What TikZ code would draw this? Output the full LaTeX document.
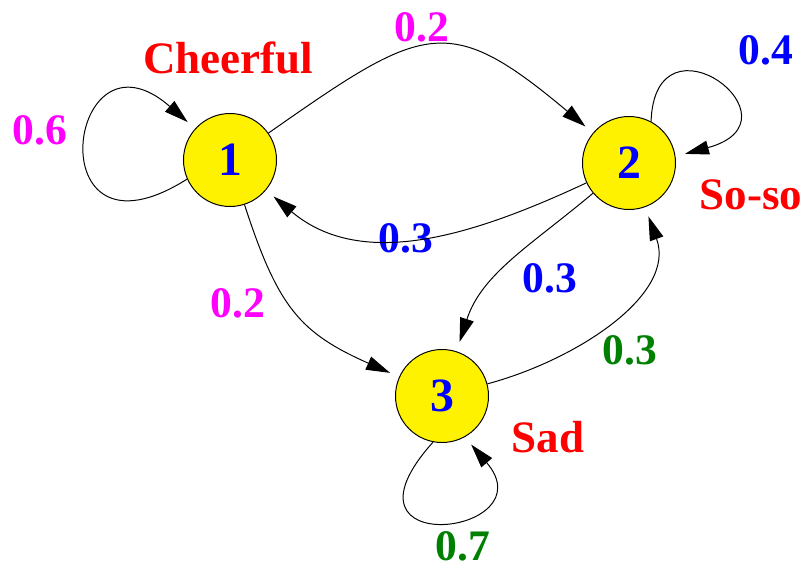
\documentclass[tikz,border=0pt]{standalone}
\usepackage{fontspec}
\setmainfont{Liberation Serif}
\usetikzlibrary{arrows.meta}
\definecolor{pmagenta}{RGB}{255,0,255}
\definecolor{pblue}{RGB}{0,0,255}
\definecolor{pgreen}{RGB}{0,128,0}
\definecolor{pred}{RGB}{255,0,0}

\begin{document}
\begin{tikzpicture}[font=\fontsize{31}{36}\selectfont\bfseries, line width=0.7pt,
    >={Triangle[length=17pt,width=10pt]}]
    \tikzstyle{state} = [shape=circle, draw=black, fill=yellow, text=pblue, minimum size=2.325cm, inner sep=0pt,
                         font=\fontsize{34}{40}\selectfont\bfseries]
    \tikzstyle{mood}  = [text=pred, inner sep=0pt, font=\fontsize{32}{38}\selectfont\bfseries]
    \tikzstyle{prob}  = [inner sep=0pt]
    \tikzstyle{trans} = [->, shorten >=7pt]
    \useasboundingbox (0,0) rectangle (20.225,-14.225);

    % states
    \node (s1) [state] at (5.75,-4.0)    {1};
    \node (s2) [state] at (15.725,-4.075) {2};
    \node (s3) [state] at (11.05,-9.9)   {3};

    \node (m1) [mood] at (5.7,-1.45)    {Cheerful};
    \node (m2) [mood] at (18.775,-4.875) {So-so};
    \node (m3) [mood] at (13.7,-10.925) {Sad};

    % transition probabilities
    \node (p11) [prob, text=pmagenta] at (1.0,-3.25)     {0.6};
    \node (p12) [prob, text=pmagenta] at (10.55,-0.69)   {0.2};
    \node (p13) [prob, text=pmagenta] at (5.95,-7.575)   {0.2};
    \node (p21) [prob, text=pblue] at (10.15,-5.95) {0.3};
    \node (p22) [prob, text=pblue] at (19.15,-1.25) {0.4};
    \node (p23) [prob, text=pblue] at (13.75,-6.95) {0.3};
    \node (p32) [prob, text=pgreen] at (15.75,-8.75)  {0.3};
    \node (p33) [prob, text=pgreen] at (11.575,-13.65) {0.7};

    \path (s1) edge [trans, out=35, in=140, looseness=1.5] (s2)
          (s1) edge [trans, out=-72, in=156, looseness=1.2] (s3)
          (s2) edge [trans, out=205, in=-40] (s1)
          (s2) edge [trans, out=220, in=72] (s3)
          (s3) edge [trans, out=15, in=-70] (s2);

    % self loops
    \draw [trans] (s1.204) .. controls +(-3.8,-2.4) and +(-3.2,2.8) .. (s1.138);
    \draw [trans] (s2.62) .. controls +(0.1,2.9) and +(3.3,0.9) .. (s2.8);
    \draw [trans] (s3.259) .. controls +(-2.7,-3.0) and +(2.1,-2.45) .. (s3.299);
\end{tikzpicture}
\end{document}
